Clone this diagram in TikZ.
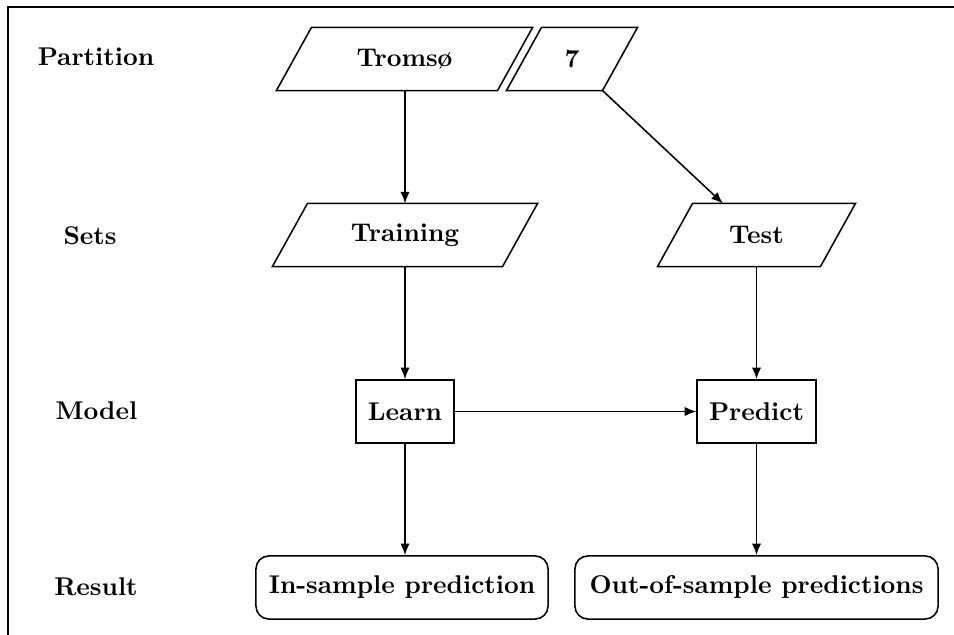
\documentclass[tikz,border=0pt]{standalone}
\usepackage{fontspec}
\usetikzlibrary{shapes.geometric,arrows.meta}
\begin{document}
\begin{tikzpicture}[x=0.39pt,y=-0.39pt,
  every node/.style={font=\bfseries},
  para/.style={rectangle,minimum height=24.2pt,inner sep=0pt},
  paraline/.style={draw,line width=0.6pt,line join=miter},
  sqbox/.style={draw,line width=0.6pt,rectangle,minimum height=24.6pt,inner sep=0pt},
  rbox/.style={draw,line width=0.6pt,rectangle,rounded corners=5pt,minimum height=24.6pt,inner sep=0pt},
  lbl/.style={inner sep=0pt},
  arr/.style={draw,line width=0.6pt,-{Latex[length=4.5pt,width=3.6pt]}}]
\useasboundingbox (0,0) rectangle (954,635);
\draw[line width=0.8pt] (8,635) -- (8,7) -- (954,7);

\node[lbl] (lpart) at (96,57) {Partition};
\node[lbl] (lsets) at (90,236) {Sets};
\node[lbl] (lmodel) at (96.5,411) {Model};
\node[lbl] (lres) at (96,587) {Result};

\node[para,minimum width=99.5pt] (tromso) at (404.5,59) {Tromsø};
\node[para,minimum width=50.7pt] (seven) at (572,59) {7};
\node[para,minimum width=103pt] (training) at (405,235) {Training};
\node[para,minimum width=76.8pt] (test) at (756.5,235) {Test};
\foreach \n in {tromso,seven,training,test}
  \draw[paraline] (\n.south west) -- ([xshift=-13.65pt]\n.south east) -- (\n.north east)
     -- ([xshift=13.65pt]\n.north west) -- cycle;
\coordinate (sevenbr) at ([xshift=-13.65pt]seven.south east);

\node[sqbox,minimum width=38.2pt] (learn) at (405,411.5) {Learn};
\node[sqbox,minimum width=46.4pt] (predict) at (756.5,411.5) {Predict};
\node[rbox,minimum width=113.9pt] (insample) at (402,587.5) {In-sample prediction};
\node[rbox,minimum width=141.6pt] (outsample) at (756.5,587.5) {Out-of-sample predictions};

\draw[arr] (tromso.south -| training.north) -- (training.north);
\draw[arr] (sevenbr) -- (test);
\draw[arr] (training.south -| learn.north) -- (learn.north);
\draw[arr] (test.south) -- (predict.north);
\draw[arr] (learn.east) -- (predict.west);
\draw[arr] (learn.south) -- (learn.south |- insample.north);
\draw[arr] (predict.south) -- (predict.south |- outsample.north);
\end{tikzpicture}
\end{document}
